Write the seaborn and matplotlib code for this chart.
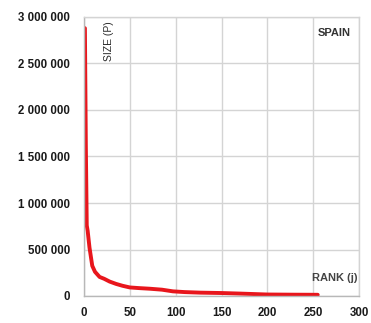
import matplotlib
matplotlib.use("Agg")
import matplotlib.pyplot as plt
import seaborn as sns
import pandas as pd
from matplotlib.ticker import FuncFormatter

ranks = [1, 2, 3, 4, 6, 9, 12, 17, 22, 28, 35, 42, 50, 60, 72, 85, 97, 110, 127, 150, 170, 200, 230, 255]
sizes = [2880000, 1620000, 760000, 700000, 520000, 325000, 260000, 205000, 185000, 155000, 130000,
         110000, 92000, 85000, 78000, 68000, 50000, 42000, 36000, 32000, 26000, 16000, 14000, 13000]
x_ticks = [0, 50, 100, 150, 200, 250, 300]
y_ticks = [0, 500000, 1000000, 1500000, 2000000, 2500000, 3000000]
country = "SPAIN"
x_label = "RANK (j)"
y_label = "SIZE (P)"

df = pd.DataFrame({"rank": ranks, "size": sizes})

sns.set_theme(style="white")
plt.rcParams['font.family'] = ['Liberation Sans', 'DejaVu Sans']

fig = plt.figure(figsize=(3.71, 3.23), dpi=100)
ax = fig.add_axes([84/371, 1-296/323, (359-84)/371, (296-17)/323])

sns.lineplot(data=df, x="rank", y="size", ax=ax, color="#e8161c", linewidth=2.8)

ax.set_xlim(0, 300)
ax.set_ylim(0, 3000000)
ax.set_xticks(x_ticks)
ax.set_yticks(y_ticks)
ax.yaxis.set_major_formatter(FuncFormatter(lambda v, p: f"{int(v):,}".replace(",", " ")))
ax.grid(True, color="#d4d4d4", linewidth=1)
for s in ax.spines.values():
    s.set_color("#d4d4d4")
    s.set_linewidth(1)
ax.spines['left'].set_color("#b8b8b8")
ax.spines['bottom'].set_color("#b8b8b8")
ax.tick_params(axis='both', length=3, color="#b8b8b8", labelsize=8.3, labelcolor="#1a1a1a")
ax.tick_params(axis='y', pad=7)
ax.tick_params(axis='x', pad=5)
for lab in ax.get_xticklabels() + ax.get_yticklabels():
    lab.set_fontweight("bold")
ax.set_xlabel("")
ax.set_ylabel("")

ax.text(0.072, 0.985, y_label, transform=ax.transAxes, rotation=90, ha="left", va="top",
        fontsize=7.5, color="#2a2a2a")
ax.text(0.97, 0.96, country, transform=ax.transAxes, ha="right", va="top",
        fontsize=8, fontweight="bold", color="#333333")
ax.text(0.995, 0.045, x_label, transform=ax.transAxes, ha="right", va="bottom",
        fontsize=8, fontweight="bold", color="#444444")

fig.savefig("out.png", dpi=100)
